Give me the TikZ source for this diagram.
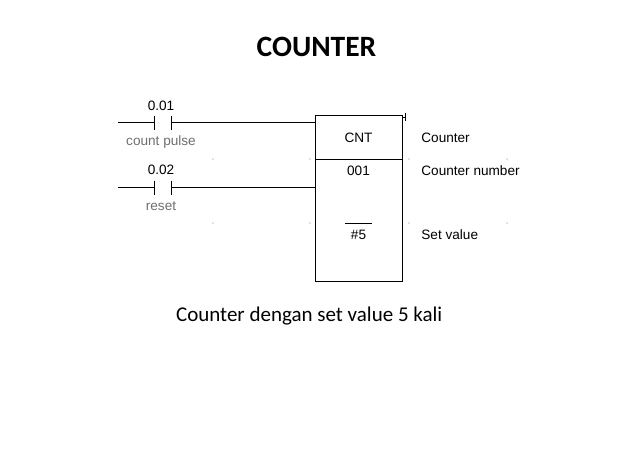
\documentclass[tikz,border=0pt]{standalone}
\usepackage{fontspec}
\setmainfont{Carlito}
\newfontfamily\ladderfont{Liberation Sans}
\usetikzlibrary{calc}
\usetikzlibrary{positioning}
\definecolor{labelgray}{RGB}{110, 110, 110}
\definecolor{dotgray}{RGB}{200, 200, 200}
\tikzset{
  ladder/.style={font=\ladderfont\fontsize{13.6}{15}\selectfont, inner sep=0pt},
  tag/.style={ladder, anchor=base},
  note/.style={ladder, color=labelgray, anchor=base},
  side/.style={ladder, anchor=base west},
  cntbox/.style={draw, minimum width=87pt, minimum height=166.7pt, inner sep=0pt},
  plate/.style={line width=0.9pt}
}

\begin{document}
\begin{tikzpicture}[x=1pt, y=-1pt, line width=0.8pt]
            \useasboundingbox (0,0) rectangle (638,451);
            % heading and caption
            \node[anchor=base, inner sep=0pt, font=\bfseries\fontsize{29.5}{32}\selectfont] (title) at (316.5,56) {COUNTER};
            \node[anchor=base, inner sep=0pt, font=\fontsize{21}{24}\selectfont] (caption) at (309.2,321.7) {Counter dengan set value 5 kali};
            % grid dots
            \foreach \gx in {213,310,409,507}
                \foreach \gy in {159,223}
                    \fill[dotgray] (\gx,\gy) circle (0.8pt);
            % counter block
            \node[cntbox] (cnt) at (359.2,198.4) {};
            \coordinate (divl) at (cnt.west |- 0,159.3);
            \coordinate (divr) at (cnt.east |- 0,159.3);
            \draw (divl) -- (divr);
            \coordinate (stubl) at ($(cnt.north east)+(0,2.5)$);
            \coordinate (stubr) at ($(stubl)+(2.5,0)$);
            \draw (stubl) -- (stubr);
            \draw ($(stubr)+(0,-4)$) -- ($(stubr)+(0,4)$);
            \node[tag] (cntname) at (358.5,142.3) {CNT};
            \node[tag] (cntnum) at (358.5,175.3) {001};
            \node[tag] (setval) at (358.5,239.3) {\#5};
            \coordinate (ovl) at (345,223);
            \coordinate (ovr) at (372,223);
            \draw (ovl) -- (ovr);
            \node[side] (lblcnt) at (421,142.3) {Counter};
            \node[side] (lblnum) at (421,175.3) {Counter number};
            \node[side] (lblset) at (421,239.3) {Set value};
            % rung 1: count pulse
            \coordinate (rail1) at (118,122.7);
            \coordinate (pl1a) at (154,122.7);
            \coordinate (pl1b) at (171,122.7);
            \draw (rail1) -- (pl1a);
            \draw[plate] ($(pl1a)+(0,-6.5)$) -- ($(pl1a)+(0,7)$);
            \draw[plate] ($(pl1b)+(0,-6.5)$) -- ($(pl1b)+(0,7)$);
            \draw (pl1b) -- (cnt.west |- pl1b);
            \node[tag] (addr1) at (161,110.3) {0.01};
            \node[note] (pulse) at (161,145.8) {count pulse};
            % rung 2: reset
            \coordinate (rail2) at (118,187.5);
            \coordinate (pl2a) at (154,187.5);
            \coordinate (pl2b) at (171,187.5);
            \draw (rail2) -- (pl2a);
            \draw[plate] ($(pl2a)+(0,-7)$) -- ($(pl2a)+(0,7.5)$);
            \draw[plate] ($(pl2b)+(0,-7)$) -- ($(pl2b)+(0,7.5)$);
            \draw (pl2b) -- (cnt.west |- pl2b);
            \node[tag] (addr2) at (161,174.3) {0.02};
            \node[note] (reset) at (161,210) {reset};
\end{tikzpicture}
\end{document}
